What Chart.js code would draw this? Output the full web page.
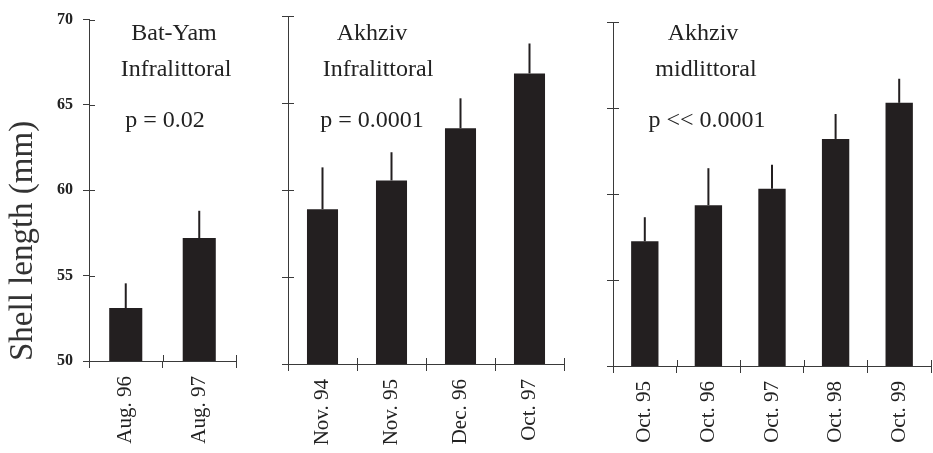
<!DOCTYPE html>
<html>
<head>
<meta charset="utf-8">
<script src="https://cdn.jsdelivr.net/npm/chart.js@4.4.1/dist/chart.umd.min.js"></script>
<style>
  body { margin: 0; background: #fff; }
  #wrap { position: relative; width: 933px; height: 453px; overflow: hidden; }
  canvas { position: absolute; top: 0; }
</style>
</head>
<body>
<div id="wrap">
  <canvas id="c1" width="240" height="453" style="left:0"></canvas>
  <canvas id="c2" width="290" height="453" style="left:280px"></canvas>
  <canvas id="c3" width="328" height="453" style="left:605px"></canvas>
</div>
<script>
// Données (longueur de coquille, mm)
const batYamLabels = ['Aug. 96', 'Aug. 97'];
const batYamMeans = [53.1, 57.2];
const batYamErrors = [1.45, 1.6];

const akhzivInfraLabels = ['Nov. 94', 'Nov. 95', 'Dec. 96', 'Oct. 97'];
const akhzivInfraMeans = [58.9, 60.55, 63.55, 66.7];
const akhzivInfraErrors = [2.4, 1.62, 1.72, 1.72];

const akhzivMidLabels = ['Oct. 95', 'Oct. 96', 'Oct. 97', 'Oct. 98', 'Oct. 99'];
const akhzivMidMeans = [57.25, 59.35, 60.3, 63.2, 65.3];
const akhzivMidErrors = [1.4, 2.15, 1.4, 1.45, 1.4];

const yTicks = [50, 55, 60, 65, 70];

const INK = '#231f20';
const AXIS = '#3a3a3a';
const SERIF = '"Liberation Serif", "DejaVu Serif", serif';

// barres d'erreur (partie supérieure seulement)
const errorBars = {
    id: 'errorBars',
    afterDatasetsDraw(chart, args, opts) {
        const meta = chart.getDatasetMeta(0);
        const yScale = chart.scales.y;
        const ctx = chart.ctx;
        ctx.save();
        ctx.strokeStyle = INK;
        ctx.lineWidth = 2;
        meta.data.forEach((bar, i) => {
            const top = yScale.getPixelForValue(chart.data.datasets[0].data[i] + opts.errors[i]);
            ctx.beginPath();
            ctx.moveTo(bar.x, bar.y);
            ctx.lineTo(bar.x, top);
            ctx.stroke();
        });
        ctx.restore();
    }
};

// petites graduations vers l'intérieur (traits qui traversent l'axe)
const innerTicks = {
    id: 'innerTicks',
    afterDraw(chart) {
        const ctx = chart.ctx;
        const x = chart.scales.x, y = chart.scales.y;
        const area = chart.chartArea;
        ctx.save();
        ctx.strokeStyle = AXIS;
        ctx.lineWidth = 1;
        yTicks.forEach(v => {
            const py = Math.round(y.getPixelForValue(v)) + 0.5;
            ctx.beginPath();
            ctx.moveTo(area.left, py);
            ctx.lineTo(area.left + 6, py);
            ctx.stroke();
        });
        for (let i = 0; i <= chart.data.labels.length; i++) {
            const px = Math.round(x.getPixelForValue(i - 0.5)) + 0.5;
            ctx.beginPath();
            ctx.moveTo(px, area.bottom);
            ctx.lineTo(px, area.bottom - 6);
            ctx.stroke();
        }
        ctx.restore();
    }
};

// textes dans le panneau (site, zone, p)
const panelText = {
    id: 'panelText',
    afterDraw(chart, args, opts) {
        const ctx = chart.ctx;
        const left = chart.chartArea.left;
        ctx.save();
        ctx.fillStyle = '#222';
        ctx.font = '24px ' + SERIF;
        ctx.textAlign = 'center';
        ctx.textBaseline = 'middle';
        opts.lines.forEach(line => {
            ctx.fillText(line.text, left + line.dx, line.y);
        });
        ctx.restore();
    }
};

function makePanel(elementId, labels, means, errors, cfg) {
    const chartConfig = {
        type: 'bar',
        data: {
            labels: labels,
            datasets: [{
                data: means,
                backgroundColor: INK,
                borderWidth: 0,
                barPercentage: cfg.barPct,
                categoryPercentage: 1.0
            }]
        },
        options: {
            responsive: false,
            animation: false,
            layout: {
                padding: { left: 0, right: cfg.padRight, top: cfg.top, bottom: 0 }
            },
            scales: {
                x: {
                    afterFit: s => { s.height = 453 - cfg.bottom; },
                    border: { color: AXIS, width: 1 },
                    grid: { drawOnChartArea: false, tickLength: 7, color: AXIS, offset: true },
                    ticks: {
                        minRotation: 90,
                        maxRotation: 90,
                        padding: 8,
                        color: '#222',
                        font: { family: SERIF, size: 21 }
                    }
                },
                y: {
                    min: 50,
                    max: 70,
                    afterFit: s => { s.width = cfg.yWidth; },
                    border: { color: AXIS, width: 1 },
                    grid: { drawOnChartArea: false, tickLength: 6, color: AXIS },
                    ticks: {
                        display: cfg.showY,
                        stepSize: 5,
                        padding: 10,
                        color: '#222',
                        font: { family: SERIF, size: 16, weight: 'bold' }
                    },
                    title: {
                        display: cfg.showY,
                        text: 'Shell length (mm)',
                        align: 'start',
                        color: '#333',
                        padding: { top: 4, bottom: 0 },
                        font: { family: SERIF, size: 33 }
                    }
                }
            },
            plugins: {
                legend: { display: false },
                tooltip: { enabled: false },
                errorBars: { errors: errors },
                panelText: { lines: cfg.text }
            }
        },
        plugins: [errorBars, innerTicks, panelText]
    };
    return new Chart(document.getElementById(elementId), chartConfig);
}

makePanel('c1', batYamLabels, batYamMeans, batYamErrors, {
    top: 19, bottom: 361, yWidth: 89, padRight: 4, barPct: 0.45, showY: true,
    text: [
        { text: 'Bat-Yam', dx: 85, y: 34 },
        { text: 'Infralittoral', dx: 87, y: 70 },
        { text: 'p = 0.02', dx: 76, y: 121 }
    ]
});

makePanel('c2', akhzivInfraLabels, akhzivInfraMeans, akhzivInfraErrors, {
    top: 16, bottom: 364, yWidth: 8, padRight: 6, barPct: 0.45, showY: false,
    text: [
        { text: 'Akhziv', dx: 84, y: 34 },
        { text: 'Infralittoral', dx: 90, y: 70 },
        { text: 'p = 0.0001', dx: 84, y: 121 }
    ]
});

makePanel('c3', akhzivMidLabels, akhzivMidMeans, akhzivMidErrors, {
    top: 22, bottom: 366, yWidth: 8, padRight: 2, barPct: 0.43, showY: false,
    text: [
        { text: 'Akhziv', dx: 90, y: 34 },
        { text: 'midlittoral', dx: 93, y: 70 },
        { text: 'p << 0.0001', dx: 94, y: 121 }
    ]
});
</script>
</body>
</html>
